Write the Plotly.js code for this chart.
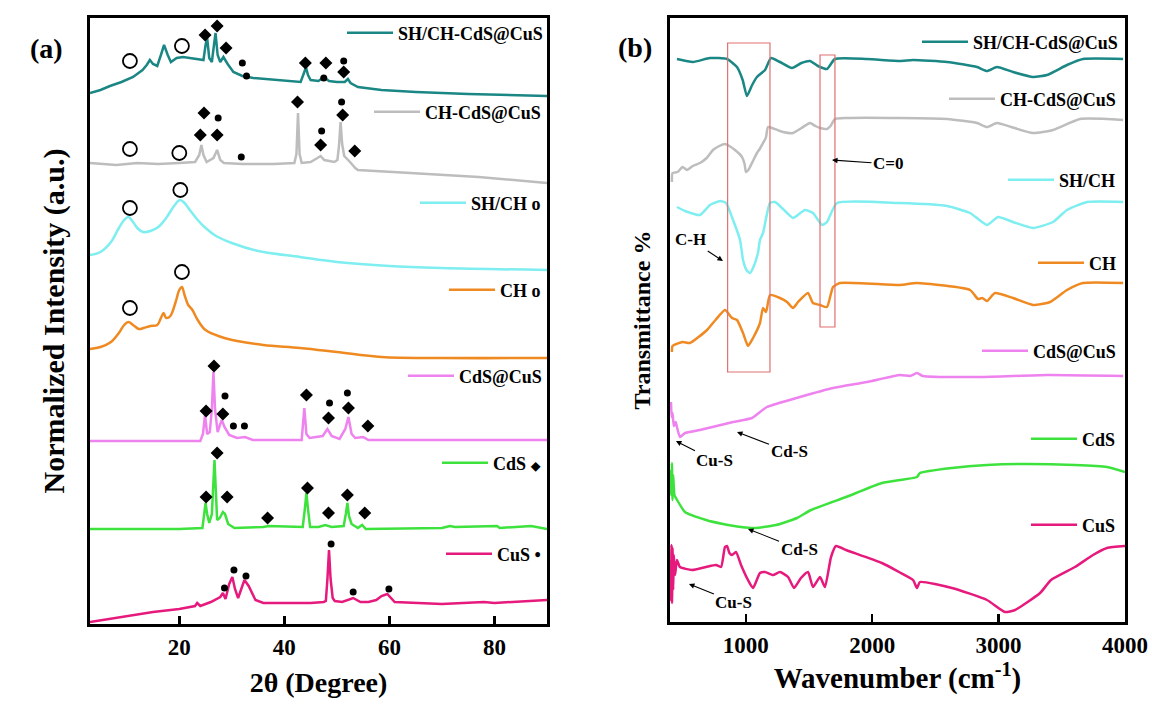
<!DOCTYPE html>
<html><head><meta charset="utf-8">
<script src="https://cdn.plot.ly/plotly-3.0.1.min.js"></script>
<style>html,body{margin:0;padding:0;background:#fff}#chart{width:1152px;height:704px}</style>
</head><body><div id="chart"></div>
<script>
// ---------- (a) XRD : 2theta (deg) vs offset normalized intensity (a.u.) ----------
const xrdA_x = [3,5,6.8,9,11.2,13,13.8,14.4,15,15.8,16.5,17.1,17.8,18.4,19.5,20.7,22,23.9,24.6,25.0,25.3,25.7,26.2,26.6,26.9,27.3,27.8,28.4,29.2,30.3,32,34.1,38,43.1,43.8,44.1,44.5,45,46.5,47.5,48.5,50,51.5,52.1,52.6,54,58.5,65,75,90];
const xrdA_y = [531,534,538,542,547,554,559,564,560,558,569,579,569,562,566,567,566,564,564,579,586,566,562,579,591,569,562,567,560,552,548,546,544,542,552,557,549,544,543,547,543,542,542,545,541,537,534,532,530,528];
const xrdB_x = [3,8,12,16,20,23,23.8,24.2,24.6,25.2,26.5,27.2,27.8,28.5,32,38,41.9,42.3,42.6,42.9,43.3,45,46.3,46.9,47.6,49.5,50.1,50.4,50.7,51.0,51.4,51.8,52.5,53.5,54,64,77,90];
const xrdB_y = [461,459,461,460,461,462,469,479,469,462,466,474,464,461,460,460,461,470,511,470,461,462,466,468,464,462,464,478,502,480,468,466,462,456,454,451,447,441];
const xrdC_x = [3,5,7,8.5,9.5,10.3,11.2,12,13.1,14.5,16,17.5,19,20.1,21,22,23.5,25,27,30,35,43,50,60,70,90];
const xrdC_y = [369,372,382,396,404,407,402,396,392,393,397,406,418,424,421,414,404,396,388,381,373,367,362,358,356,354];
const xrdD_x = [3,5,7,8.5,9.5,10.3,11.2,12.3,13.2,14.5,15.8,16.5,17,17.5,18.3,19.3,20,20.5,21,21.7,22.5,23.5,25,28,31,36,43,50,58.5,70,90];
const xrdD_y = [275,277,282,291,299,302,299,295,296,298,299,306,311,306,308,322,334,337,329,319,314,304,294,287,283,279,276,272,267,266,266];
const xrdE_x = [3,15,24,24.5,24.9,25.3,25.8,26.2,26.5,26.8,27.3,27.8,28.1,28.6,29.5,31,32.5,34,43.3,43.8,44.2,44.8,47.3,48.2,49,50.5,51.6,52.2,52.8,53.5,55,56,70,90];
const xrdE_y = [183,183,183,190,209,190,192,215,252,215,192,200,204,197,189,186,187,184,184,216,190,186,188,195,188,185,195,207,190,186,187,184,184,184];
const xrdF_x = [3,20,24.4,24.8,25.0,25.3,25.7,26.2,26.5,26.7,26.9,27.2,27.7,28.3,28.7,29.3,30.5,36,37,43.5,43.9,44.2,44.5,44.9,46.5,47.8,49,51.3,51.7,52,52.3,52.8,54,54.8,55.5,70,71.5,72.5,80.5,81,87,90];
const xrdF_y = [95,95,96,110,121,110,101,110,140,164,140,104,106,112,110,100,96,97,98,97,115,131,115,97,97,99,97,98,110,121,108,100,96,99,95,96,98,97,98,96,98,95];
const xrdG_x = [3,10,15,20,23,23.4,24,26,27.3,27.8,28.3,28.8,29.5,30.1,30.6,31.2,32.4,33.2,34.5,36,40,45,47.5,47.9,48.2,48.5,48.8,49.2,49.6,51,53.1,54.5,56,57.5,58.5,59.6,61,65,70,78,80,90];
const xrdG_y = [2,8,12,15,18,21,18,22,26,27,31,25,40,47,35,26,44,38,24,21,21,21,22,23,45,74,45,26,23,22,26,22,22,24,28,30,22,21,20,22,21,24];

// phase markers (a)
const circ_x = [10.6,20.5,10.6,20,10.6,20.2,10.6,20.5];
const circ_y = [563,578,475,471,416,434,316,352];
const diam_x = [24.9,27.2,28.9,44.0,47.9,51.3, 24.0,24.7,27.2,42.5,46.9,51.1,53.4, 25.1,26.6,28.3,44.2,48.4,52.2,55.9, 25.1,27.2,29.1,36.8,44.4,48.4,52.0,55.3];
const diam_y = [589,598,576,561,561,552, 489,511,489,522,479,509,473, 213,258,210,229,206,216,198, 127,171,127,106,136,111,129,111];
const dot_x = [32.0,32.8,47.5,51.3, 27.4,31.8,47.1,50.9, 28.7,30.3,32.4,48.6,52.0, 28.6,30.4,32.7,48.9,53.1,59.9];
const dot_y = [561,548,546,563, 506,467,493,522, 228,198,198,221,231, 36,54,48,80,32,35];

// ---------- (b) FTIR : wavenumber (cm-1) vs offset transmittance ----------
const irA_x = [455,582,716,851,930,975,1009,1050,1088,1152,1199,1270,1365,1440,1508,1571,1642,1705,1958,2220,2323,2592,2829,2908,2987,3114,3272,3383,3541,3668,3985];
const irA_y = [563,560,564,563,555,542,526,537,545,552,564,560,554,559,561,556,553,563,563,561,562,560,555,551,555,550,545,547,557,563,563];
const irB_x = [415,420,460,500,534,580,637,690,740,790,835,870,914,950,970,990,1001,1020,1033,1060,1088,1110,1136,1150,1160,1175,1207,1250,1294,1373,1440,1508,1550,1587,1642,1670,1705,1800,2220,2592,2829,2908,2987,3100,3272,3430,3644,3985];
const irB_y = [440,449,450,455,452,456,459,464,472,476,478,476,472,468,465,458,450,452,455,462,469,473,479,482,485,495,494,492,490,489,494,499,496,494,493,496,503,504,504,503,499,495,499,495,489,492,503,502];
const irC_x = [455,519,637,716,796,843,899,954,978,1005,1033,1060,1096,1112,1136,1191,1231,1326,1373,1468,1531,1603,1642,1721,2220,2592,2774,2908,2995,3114,3272,3430,3541,3700,3985];
const irC_y = [415,411,407,417,421,419,402,382,362,352,349,355,369,382,389,419,420,409,404,412,409,397,400,419,419,416,409,397,405,400,394,400,412,420,420];
const irD_x = [415,420,500,558,693,760,835,891,930,978,1017,1057,1112,1136,1160,1191,1270,1326,1373,1413,1492,1531,1587,1642,1690,1745,2220,2354,2774,2837,2870,2908,2971,3114,3272,3407,3541,3668,3985];
const irD_y = [270,276,280,279,292,302,312,304,302,289,276,284,299,314,310,327,324,320,314,320,329,319,317,315,335,339,337,339,332,323,324,321,329,324,317,320,332,339,339];
const irE_x = [408,413,420,430,445,455,479,519,637,899,1049,1167,1428,1690,1958,2220,2300,2354,2400,2853,3383,3985];
const irE_y = [220,205,209,196,200,195,185,189,192,200,204,215,225,234,240,247,246,249,246,245,247,246];
const irF_x = [405,410,415,420,425,435,447,519,685,819,962,1072,1239,1405,1516,1793,2077,2354,2378,2631,2908,3193,3604,3857,4000];
const irF_y = [152,127,159,122,147,127,124,110,102,98,95,94,97,104,112,125,139,145,149,154,157,158,157,155,150];
const irG_x = [403,408,412,416,420,425,430,440,455,479,574,685,764,804,835,851,870,891,922,962,1017,1057,1112,1152,1215,1270,1334,1381,1436,1492,1531,1587,1626,1674,1713,1793,2077,2212,2323,2354,2378,2631,2908,3050,3130,3328,3415,3604,3747,3857,4000];
const irG_y = [62,22,77,19,74,32,67,47,62,55,52,55,57,55,75,76,69,67,70,57,42,34,49,50,47,50,45,34,44,50,35,45,35,65,76,72,59,50,42,34,40,34,22,10,12,29,42,55,67,74,76];

const namesA = ['SH/CH-CdS@CuS','CH-CdS@CuS','SH/CH o','CH o','CdS@CuS',"CdS <span style='font-size:12px'>◆</span>",'CuS •'];
const namesB = ['SH/CH-CdS@CuS','CH-CdS@CuS','SH/CH','CH','CdS@CuS','CdS','CuS'];
const colors = ['#1a8785','#bdbdbd','#7eeef0','#ef8a22','#ee82ee','#3de23d','#e6197d'];

const FONT = 'Liberation Serif';
const xa = [[xrdA_x,xrdA_y],[xrdB_x,xrdB_y],[xrdC_x,xrdC_y],[xrdD_x,xrdD_y],[xrdE_x,xrdE_y],[xrdF_x,xrdF_y],[xrdG_x,xrdG_y]];
const xb = [[irA_x,irA_y],[irB_x,irB_y],[irC_x,irC_y],[irD_x,irD_y],[irE_x,irE_y],[irF_x,irF_y],[irG_x,irG_y]];
const smoothA = [false,false,true,true,false,false,false];

const traces = [];
xa.forEach((d,i)=>{
  traces.push({x:d[0],y:d[1],type:'scatter',mode:'lines',name:namesA[i],
    line:{color:colors[i],width:2.5,shape:smoothA[i]?'spline':'linear'},
    xaxis:'x',yaxis:'y',legend: i===0?'legend':'legend'+(i+1)});
});
xb.forEach((d,i)=>{
  traces.push({x:d[0],y:d[1],type:'scatter',mode:'lines',name:namesB[i],
    line:{color:colors[i],width:2.5,shape:'spline',smoothing:0.5},
    xaxis:'x2',yaxis:'y2',legend:'legend'+(i+8)});
});
traces.push({x:circ_x,y:circ_y,type:'scatter',mode:'markers',showlegend:false,xaxis:'x',yaxis:'y',
  marker:{symbol:'circle-open',size:14,color:'#000',line:{width:1.8,color:'#000'}}});
traces.push({x:diam_x,y:diam_y,type:'scatter',mode:'markers',showlegend:false,xaxis:'x',yaxis:'y',
  marker:{symbol:'diamond',size:10,color:'#000'}});
traces.push({x:dot_x,y:dot_y,type:'scatter',mode:'markers',showlegend:false,xaxis:'x',yaxis:'y',
  marker:{symbol:'circle',size:7,color:'#000'}});

const W=1152,H=704;
const px=v=>v/W, py=v=>(H-v)/H;
const legA = [[548,33],[546,112],[546,203],[546,290],[547,376],[546,463],[546,554]];
const legB = [[1123,42],[1121,99],[1121,180],[1121,263],[1121,351],[1121,439],[1121,525]];

const axFont = {family:FONT,size:23,color:'#000',weight:'bold'};
const layout = {
  width:W,height:H,margin:{l:0,r:0,t:0,b:0},paper_bgcolor:'#fff',plot_bgcolor:'#fff',
  font:{family:FONT,color:'#000'},
  xaxis:{domain:[px(90),px(547)],range:[3,90],tickvals:[20,40,60,80],ticks:'inside',ticklen:8,tickwidth:2.5,tickcolor:'#000',
    showline:true,linewidth:3,linecolor:'#000',mirror:true,showgrid:false,zeroline:false,tickfont:axFont,
    title:{text:'2θ (Degree)',font:{family:FONT,size:28,color:'#000',weight:'bold'},standoff:14}},
  yaxis:{domain:[py(624),py(18)],range:[0,606],showticklabels:false,ticks:'',showline:true,linewidth:3,linecolor:'#000',
    mirror:true,showgrid:false,zeroline:false,
    title:{text:'Normalized Intensity (a.u.)',font:{family:FONT,size:30,color:'#000',weight:'bold'},standoff:14}},
  xaxis2:{domain:[px(670),px(1125)],range:[400,4000],tickvals:[1000,2000,3000,4000],ticks:'inside',ticklen:8,tickwidth:2.5,tickcolor:'#000',
    showline:true,linewidth:3,linecolor:'#000',mirror:true,showgrid:false,zeroline:false,tickfont:axFont,anchor:'y2',
    title:{text:'Wavenumber (cm<sup>-1</sup>)',font:{family:FONT,size:29,color:'#000',weight:'bold'},standoff:8}},
  yaxis2:{domain:[py(622),py(18)],range:[0,604],showticklabels:false,ticks:'',showline:true,linewidth:3,linecolor:'#000',
    mirror:true,showgrid:false,zeroline:false,anchor:'x2',
    title:{text:'Transmittance %',font:{family:FONT,size:24,color:'#000',weight:'bold'},standoff:10}},
  shapes:[
    {type:'rect',xref:'x2',yref:'y2',x0:856,x1:1191,y0:250,y1:579,line:{color:'#e07070',width:1.2}},
    {type:'rect',xref:'x2',yref:'y2',x0:1587,x1:1705,y0:295,y1:567,line:{color:'#e07070',width:1.2}}
  ],
  annotations:[
    {text:'(a)',xref:'paper',yref:'paper',x:px(28),y:py(31),showarrow:false,font:{family:FONT,size:28,weight:'bold',color:'#000'}},
    {text:'(b)',xref:'paper',yref:'paper',x:px(635),y:py(30),showarrow:false,font:{family:FONT,size:28,weight:'bold',color:'#000'}}
  ]
};
const arrows = [
  ['C=0',1682,462,2125,458],
  ['C-H',819,361,566,382],
  ['Cu-S',447,181,756,161],
  ['Cd-S',930,190,1342,170],
  ['Cd-S',1017,93,1421,73],
  ['Cu-S',550,38,906,20]
];
arrows.forEach(a=>layout.annotations.push({text:a[0],xref:'x2',yref:'y2',axref:'x2',ayref:'y2',x:a[1],y:a[2],ax:a[3],ay:a[4],
  showarrow:true,arrowhead:2,arrowsize:1,arrowwidth:1.1,arrowcolor:'#000',standoff:0,
  font:{family:FONT,size:17,weight:'bold',color:'#000'}}));

const legBase = {xanchor:'right',yanchor:'middle',bgcolor:'rgba(0,0,0,0)',borderwidth:0,itemwidth:46,
  font:{family:FONT,size:18,weight:'bold',color:'#000'},tracegroupgap:0};
legA.concat(legB).forEach((p,i)=>{
  const key = i===0?'legend':'legend'+(i+1);
  layout[key] = Object.assign({},legBase,{x:px(p[0]),y:py(p[1])});
});
Plotly.newPlot('chart',traces,layout,{staticPlot:true});
</script></body></html>
